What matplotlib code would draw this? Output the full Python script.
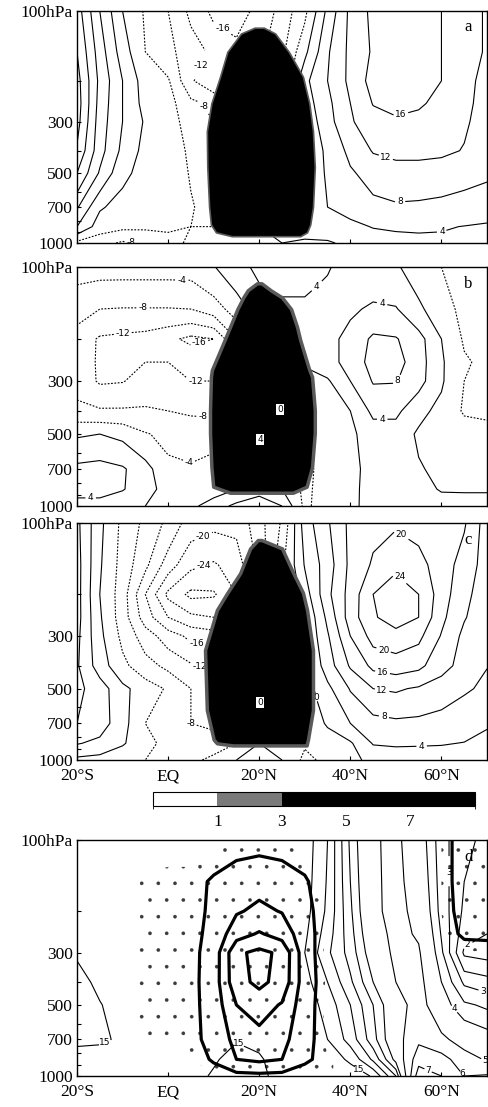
import numpy as np
import matplotlib
matplotlib.use("Agg")
import matplotlib.pyplot as plt
from matplotlib.colors import ListedColormap, BoundaryNorm
from matplotlib.ticker import NullLocator, NullFormatter
import matplotlib.colorbar as mcbar

plt.rcParams['font.family'] = ['Liberation Serif', 'DejaVu Serif']
plt.rcParams['contour.negative_linestyle'] = 'dashed'
plt.rcParams['lines.dashed_pattern'] = [1.6, 1.4]
plt.rcParams['hatch.linewidth'] = 0.2
plt.rcParams['hatch.color'] = '#3a3a3a'

# ---------------- data ----------------
lats = [-20, -15, -10, -5, 0, 5, 10, 15, 20, 25, 30, 35, 40, 45, 50, 55, 60, 65, 70]
pres = [100, 150, 200, 250, 300, 400, 500, 700, 850, 1000]

field_a = [
    [18, 8, 0, -4.5, -8, -13, -17, -17.5, -15, -10.5, -5, 5, 13, 17, 18.5, 18.5, 16, 14, 11.5],
    [20, 10, 2, -4, -7, -10, -13, -15, -13, -9, -1, 7.5, 13, 16.5, 17.5, 17.5, 16, 14, 11.5],
    [21.5, 11, 4, -2, -3.5, -11.5, -15, -16, -14, -8, 3, 8, 13, 17.5, 19, 18.5, 16, 13.5, 10.5],
    [22, 10.5, 4, -1.5, -2.5, -7, -9, -10, -9, -5, 2, 7, 12, 16.2, 17, 16.5, 15, 13, 10.5],
    [21.5, 10, 4, -0.5, -2.5, -5.5, -8, -9, -8, -4, 1, 6.5, 11.5, 14.5, 15.5, 15, 14, 12.5, 10.5],
    [19.5, 9.5, 3, -1.3, -2.5, -4.5, -7, -8, -7, -3, 0, 5, 9, 12.3, 13, 13, 12.8, 11.8, 10],
    [16, 7.5, 1, -1.5, -2.5, -4.2, -6, -7, -6, -3, 1, 4.5, 7.5, 9.5, 10.5, 10.5, 10, 9.3, 8.6],
    [8.5, 0.5, -1.5, -2.5, -3, -3.8, -5, -5, -4, -1, 2, 4, 5.5, 7, 7.5, 7.3, 7, 6.5, 6],
    [4, -2, -3, -3.2, -3.5, -4, -4, -2, 0, 1, 1.5, 2.5, 3, 4.2, 4.6, 4.6, 4.3, 3.9, 3.5],
    [-5, -6.5, -8.6, -7.5, -5, -3.5, -2, -1, 0, 0, -0.5, -0.5, 1, 2, 2.5, 3, 3.3, 3, 2.8],
]

field_b = [
    [-2.5, -2.5, -2.5, -2.5, -2.5, -2.5, -0.2, 2.5, 5, 6, 6, 4.2, 3, 2, 0.5, -2, -4, -5, -5.5],
    [-6.5, -8, -8.2, -8.2, -8.2, -8, -6, -2, 2, 3, 3, 3, 3.5, 4.5, 4.3, 0.8, -2.5, -5, -5.5],
    [-9.5, -12.5, -13, -13.5, -15, -17, -16, -8, 0, 2, 1.5, 3, 5, 8.8, 8.3, 5.5, 0, -4.5, -5],
    [-10, -12.5, -12.5, -12, -12, -13, -13, -8, -2, 1, 1, 2.5, 5.5, 9.5, 9.5, 5.8, 0.5, -3.5, -5],
    [-9.5, -12.5, -12.2, -10.5, -11, -12, -12, -8, -3, -2, -3, -0.5, 4, 8.3, 8.2, 5.5, 0.5, -4, -5],
    [-7, -7.5, -7.5, -7.5, -8, -8.5, -9, -7, -4, -4, -4, -2, 0, 5, 5, 1, -1, -4.5, -4.3],
    [-0.5, 0, -1, -3.7, -5, -6, -5, -4, -3, -3, -3, -2, -0.8, 2, 2, -0.5, -1.5, -2, -3.5],
    [5, 5.5, 4.5, 1.5, -3.2, -3.5, -3, -2, -1, -2, -5, -2.5, -1.2, 1.5, 1.8, 0.3, -0.8, -1, -1],
    [5, 5.5, 4.3, 1.5, -1.5, -2.5, -2, 0, 2, 0, -5, -2, -0.8, 1.2, 1.5, 0.8, -0.2, -0.2, -0.2],
    [3, 2.5, 1, 0, -1, -1, 2, 5, 7, 4, -5, -1.5, -0.5, 0.8, 1.2, 1.2, 1, 0.8, 0.8],
]

field_c = [
    [9, 1, -5, -9, -13, -18, -19, -19, -13.5, -7.5, 6, 11.5, 17, 19, 19.5, 19, 18, 16.5, 10],
    [9.5, 0.5, -5.5, -11, -18, -23, -24.5, -22, -15, -5, 4.3, 10, 17, 20.5, 23, 21, 18.5, 14, 10.5],
    [9.5, 0, -6, -16, -25, -29, -28.5, -24, -14, -6, 2, 11, 17.5, 24, 27, 24, 18, 13, 10],
    [9.5, 0.5, -6, -14, -20, -23, -24, -20, -12, -5, 0, 9, 18, 23.5, 26, 24, 17, 12.3, 9.5],
    [9, 1, -5, -10, -14, -17, -18, -16, -10, -4, 0, 7.5, 16, 21.5, 22.5, 21, 15.7, 11, 8.5],
    [8.5, 2, -3, -6.5, -9, -11.5, -13, -12, -8, -4, -1, 6, 12.5, 17, 18, 17, 13.5, 10.5, 8.1],
    [9, 6, 1, -2, -4.5, -8, -11, -10, -6, -3, -2, 3, 8.3, 12, 12.5, 11.5, 10, 8.5, 7.3],
    [8, 6, 1.5, -4, -7.5, -8, -9, -8, -4, -2, -3, 0.5, 4, 6.5, 7.2, 7, 6.5, 5.5, 4.2],
    [4.3, 3, 0.5, -3, -5, -6, -6, -4, 0, -1, -3.5, -2, -0.5, 4.3, 4.5, 4.3, 4.2, 3.9, 3.5],
    [-1, -1.5, -3, -4, -4.5, -5, -3, 0, 3, 0, -5, -3, -1, 1, 2, 2.5, 2.5, 2.3, 2],
]

heat_d = [
    [0, 0, 0, 0, 0, 0, 0.1, 0.2, 0.3, 0.2, 0.1, 0, 0, 0, 0, 0, 0.3, 1.8, 2.0],
    [0, 0, 0, 0.4, 0.5, 0.5, 1.2, 2.0, 2.4, 2.0, 1.2, 0, 0, 0, 0, 0, 0.3, 1.8, 2.0],
    [0, 0, 0, 0.4, 0.5, 0.5, 1.3, 2.8, 3.4, 2.9, 1.6, 0, 0, 0, 0, 0, 0.3, 1.6, 1.8],
    [0, 0, 0, 0.4, 0.5, 0.5, 1.5, 4.2, 5.2, 4.2, 1.8, 0, 0, 0, 0, 0, 0.2, 1.3, 1.4],
    [0, 0, 0, 0.5, 0.5, 0.5, 1.8, 6.6, 7.5, 6.6, 1.8, 0, 0, 0, 0, 0, 0, 0.2, 0.2],
    [0, 0, 0, 0.5, 0.5, 0.5, 1.9, 6.4, 7.4, 6.4, 1.9, 0.1, 0, 0, 0, 0, 0, 0, 0],
    [0, 0, 0, 0.5, 0.5, 0.5, 1.8, 5.0, 6.0, 4.8, 1.8, 0, 0, 0, 0, 0, 0, 0, 0],
    [0, 0, 0, 0.4, 0.4, 0.5, 1.6, 3.6, 4.2, 3.6, 1.7, 0, 0, 0, 0, 0, 0, 0, 0],
    [0, 0, 0, 0, 0, 0.2, 1.2, 3.0, 3.4, 3.0, 1.3, 0.4, 0, 0, 0, 0, 0, 0, 0],
    [0, 0, 0, 0, 0, 0, 0.2, 0.4, 0.5, 0.4, 0.2, 0.4, 0, 0, 0, 0, 0, 0, 0],
]

thin_d = [
    [1.1, 1.0, 1.0, 1.0, 1.0, 1.0, 1.0, 1.0, 1.0, 1.1, 1.2, 2.0, 3.6, 4.9, 5.2, 4.4, 3.2, 2.6, 2.4],
    [1.1, 1.0, 1.0, 1.0, 1.0, 1.0, 1.0, 1.0, 1.0, 1.1, 1.25, 2.05, 3.5, 4.85, 5.25, 4.55, 3.25, 2.5, 2.3],
    [1.2, 1.0, 1.0, 1.0, 1.0, 1.0, 1.0, 1.0, 1.0, 1.1, 1.3, 2.1, 3.4, 4.8, 5.3, 4.7, 3.3, 2.4, 2.2],
    [1.3, 1.0, 1.0, 1.0, 1.0, 1.0, 1.0, 1.0, 1.0, 1.1, 1.4, 2.25, 3.3, 4.6, 5.25, 4.9, 3.45, 2.2, 2.0],
    [1.4, 1.1, 1.0, 1.0, 1.0, 1.0, 1.0, 1.0, 1.0, 1.1, 1.5, 2.4, 3.2, 4.4, 5.2, 5.1, 3.6, 1.9, 1.8],
    [1.8, 1.3, 1.0, 1.0, 1.0, 1.0, 1.0, 1.0, 1.0, 1.1, 1.3, 2.0, 2.9, 4.0, 5.0, 5.3, 4.0, 2.9, 2.7],
    [1.9, 1.55, 1.1, 1.0, 1.0, 1.0, 1.0, 1.0, 1.0, 1.0, 1.2, 1.7, 2.5, 3.5, 4.6, 5.4, 4.3, 3.6, 3.4],
    [1.6, 1.6, 1.4, 1.0, 1.0, 1.0, 1.1, 1.45, 1.3, 1.0, 1.1, 1.5, 2.2, 3.3, 4.6, 5.8, 5.2, 4.6, 4.3],
    [1.3, 1.2, 1.0, 1.0, 1.0, 1.1, 1.4, 1.8, 1.6, 1.1, 1.0, 1.2, 1.6, 2.6, 4.2, 6.6, 6.4, 5.4, 4.9],
    [1.2, 1.1, 1.0, 1.0, 1.0, 1.2, 1.6, 2.0, 1.7, 1.2, 1.0, 1.1, 1.2, 1.55, 3.0, 7.6, 7.0, 6.0, 6.1],
]

# heating region (shaded) outlines for panels a-c
blob_a_p = [118, 125, 150, 192, 250, 330, 470, 575, 700, 833, 900, 935]
blob_a_west = [19, 16, 13, 11.4, 9.5, 8.5, 8.6, 8.8, 9.0, 9.4, 10.5, 14]
blob_a_east = [21, 23.5, 26.5, 29.6, 31, 31.8, 32.2, 32, 31.8, 31.2, 30.5, 29]

blob_b_p = [117, 125, 134, 150, 178, 202, 270, 288, 397, 495, 687, 830, 880]
blob_b_west = [19.5, 17.5, 16.5, 15.2, 13.6, 12.4, 9.6, 9.4, 9.2, 9.2, 9.5, 9.9, 13.6]
blob_b_east = [20.5, 22.5, 25, 27, 28.3, 29, 31, 31.6, 32.2, 32.2, 31.6, 30.4, 27.4]

blob_c_p = [118, 128, 163, 197, 233, 344, 615, 820, 850, 868]
blob_c_west = [19.7, 18, 15.8, 13, 10.7, 8.1, 8.5, 10, 10.7, 14.2]
blob_c_east = [20.5, 25, 27.5, 29.6, 30.5, 31.8, 31.8, 30.7, 30.5, 30.4]

cbar_bounds = [-1, 1, 3, 5, 7, 9]
cbar_colors = ['white', '#7a7a7a', 'black', 'black', 'black']
cbar_ticks = [1, 3, 5, 7]

p_ticks = [100, 200, 300, 400, 500, 600, 700, 800, 900, 1000]
p_labels = ['100hPa', '', '300', '', '500', '', '700', '', '', '1000']
lat_ticks = [-20, 0, 20, 40, 60]
lat_labels = ['20°S', 'EQ', '20°N', '40°N', '60°N']

levels_abc = [-28, -24, -20, -16, -12, -8, -4, 0, 4, 8, 12, 16, 20, 24]
levels_heat = [1, 3, 5, 7]
levels_thin = [1.5, 2, 2.5, 3, 3.5, 4, 5, 6, 7, 8]

labels_a = [(12, 113), (8, 185), (7, 272), (-8, 985), (51, 272), (47, 470), (51, 678), (60, 890)]
labels_b = [(3, 117), (-5.5, 151), (-10, 178), (7, 227), (6, 300), (7.7, 424), (3, 707),
            (-17, 945), (33, 141), (47, 134), (51, 306), (47, 450)]
labels_c = [(7.7, 114), (7.7, 146), (6.3, 318), (6.3, 417), (3.3, 734), (51, 126), (51, 161),
            (47, 364), (47, 433), (47, 506), (47, 680), (55.7, 883), (33.3, 543)]
labels_d = [(-15.4, 690), (19.5, 650), (42.5, 930), (66, 290), (60.5, 137), (69, 450),
            (61, 540), (69.5, 860), (64.5, 975), (57.5, 940)]

box_b = [(24.6, 396, '0'), (20.2, 529, '4')]
box_c = [(20.2, 570, '0')]

# ---------------- figure ----------------
W, H = 488, 1107
fig = plt.figure(figsize=(W / 100, H / 100), dpi=100)


def axrect(x0, y0, x1, y1):
    return [x0 / W, 1 - y1 / H, (x1 - x0) / W, (y1 - y0) / H]


LAT, P = np.meshgrid(lats, pres)
cmap = ListedColormap(cbar_colors)
norm = BoundaryNorm(cbar_bounds, cmap.N)
TICK_FS = 12.5


def setup(ax, show_x, letter):
    ax.set_yscale('log')
    ax.set_xlim(-20, 70)
    ax.set_ylim(1000, 100)
    ax.set_yticks(p_ticks)
    ax.set_yticklabels(p_labels)
    ax.yaxis.set_minor_locator(NullLocator())
    ax.yaxis.set_minor_formatter(NullFormatter())
    ax.set_xticks(lat_ticks)
    ax.set_xticklabels(lat_labels if show_x else [''] * len(lat_ticks))
    ax.tick_params(axis='both', direction='in', length=3, width=0.8, labelsize=TICK_FS)
    ax.tick_params(axis='y', pad=3)
    ax.tick_params(axis='x', pad=6)
    for s in ax.spines.values():
        s.set_linewidth(1.0)
    ax.text(0.955, 0.93, letter, transform=ax.transAxes, fontsize=12,
            ha='center', va='center')


def fmt_int(v):
    return f'{v:g}'


def style_labels(cs):
    for t in cs.labelTexts:
        t.set_family('DejaVu Sans')
        t.set_rotation(0)


def draw_abc(rect, field, bp, bw, be, labels, boxes, show_x, letter, fringe):
    ax = fig.add_axes(rect)
    cs = ax.contour(LAT, P, np.array(field), levels=levels_abc, colors='k',
                    linewidths=0.8)
    ax.clabel(cs, manual=labels, fmt=fmt_int, fontsize=6.5, inline=True,
              inline_spacing=3)
    style_labels(cs)
    ax.fill_betweenx(bp, bw, be, facecolor=cmap(norm(4)), edgecolor='#5a5a5a',
                     linewidth=fringe, zorder=5)
    for (x, y, s) in boxes:
        ax.text(x, y, s, fontsize=6.5, family='DejaVu Sans', ha='center', va='center',
                zorder=6, bbox=dict(boxstyle='square,pad=0.12', fc='white', ec='none'))
    setup(ax, show_x, letter)
    return ax


draw_abc(axrect(77, 11, 487, 243), field_a, blob_a_p, blob_a_west, blob_a_east,
         labels_a, [], False, 'a', 1.2)
draw_abc(axrect(77, 267, 487, 506), field_b, blob_b_p, blob_b_west, blob_b_east,
         labels_b, box_b, False, 'b', 2.5)
draw_abc(axrect(77, 523, 487, 760), field_c, blob_c_p, blob_c_west, blob_c_east,
         labels_c, box_c, True, 'c', 2.5)

# colorbar
cax = fig.add_axes(axrect(153, 792, 475, 806))
cb = mcbar.ColorbarBase(cax, cmap=cmap, norm=norm, orientation='horizontal',
                        ticks=cbar_ticks, spacing='proportional')
cb.outline.set_linewidth(0.8)
cax.tick_params(length=0, labelsize=TICK_FS, pad=6)

# panel d
axd = fig.add_axes(axrect(77, 840, 487, 1076))
axd.contourf(LAT, P, np.array(heat_d), levels=[0.3, 100], colors='none', hatches=['.'])
csd = axd.contour(LAT, P, np.array(thin_d), levels=levels_thin, colors='k', linewidths=0.8)
axd.clabel(csd, manual=labels_d, fmt=lambda v: {1.5: '15'}.get(v, f'{v:g}'),
           fontsize=6.5, inline=True, inline_spacing=3)
style_labels(csd)
axd.contour(LAT, P, np.array(heat_d), levels=levels_heat, colors='k', linewidths=2.3)
setup(axd, True, 'd')

fig.savefig('out.png', dpi=100)
